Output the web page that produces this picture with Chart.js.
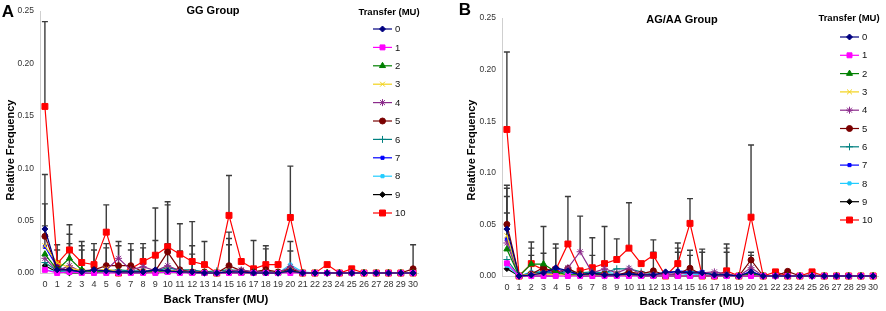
<!DOCTYPE html>
<html>
<head>
<meta charset="utf-8">
<script src="https://cdn.jsdelivr.net/npm/chart.js@4"></script>
<style>
  body { margin: 0; background: #fff; }
  .panel { position: absolute; top: 0; }
</style>
</head>
<body>
<div class="panel" style="left:0"><canvas id="chartA" width="443" height="311"></canvas></div>
<div class="panel" style="left:443px"><canvas id="chartB" width="443" height="311"></canvas></div>
<script>
// x categories (back transfer, MU) and y ticks
const backTransfer = Array.from({ length: 31 }, (_, i) => i);
const yTicks = [0, 0.05, 0.10, 0.15, 0.20, 0.25];
const seriesLabels = ['0', '1', '2', '3', '4', '5', '6', '7', '8', '9', '10'];
const seriesColors = ['#000080', '#ff00ff', '#008000', '#f2d21a', '#8b2a8b', '#7a0000', '#008080', '#0000ff', '#22ccff', '#000000', '#ff0000'];
const seriesMarkers = ['rectRot', 'rect', 'triangle', 'crossRot', 'star', 'circle', 'cross', 'rect', 'rect', 'rectRot', 'rect'];
const markerSizes = [3, 3.5, 3.5, 3.5, 3.5, 3, 3.5, 2.2, 2.2, 2.8, 4.2];

// ---- panel A: GG group ----
const a0 = [0.042,0.003,0.003,0.001,0.003,0.002,0.001,0.001,0.001,0.003,0.002,0.001,0.001,0,0,0.001,0.001,0,0,0,0.002,0,0,0,0,0,0,0,0,0,0];
const a1 = [0.003,0,0.001,0,0,0,0,0,0,0,0.001,0,0,0,0,0,0,0,0,0,0,0,0,0,0,0,0,0,0,0,0];
const a2 = [0.018,0.003,0.014,0.003,0.001,0.001,0.001,0.001,0.001,0.001,0.001,0.001,0,0,0,0.001,0,0,0,0,0.002,0,0,0,0,0,0,0,0,0,0];
const a3 = [0.026,0.010,0.005,0.002,0.001,0.004,0.001,0.001,0.001,0.001,0.003,0.001,0.001,0,0,0.001,0,0,0,0,0.002,0,0,0,0,0,0,0,0,0,0];
const a4 = [0.014,0.002,0.007,0.001,0.002,0.003,0.014,0.003,0.006,0.002,0.007,0.002,0.001,0,0,0.002,0.003,0.001,0.001,0,0.006,0,0,0,0,0,0,0,0,0,0];
const a5 = [0.035,0.004,0.003,0.002,0.003,0.007,0.007,0.007,0.001,0.002,0.020,0.003,0.001,0.001,0,0.007,0.002,0.001,0.003,0.001,0.004,0,0,0,0,0,0,0,0,0,0.004];
const a6 = [0.010,0.002,0.002,0.002,0.002,0.002,0.003,0.002,0.002,0.002,0.005,0.003,0.003,0.001,0.002,0.003,0.002,0.001,0.002,0,0.003,0,0,0,0,0,0,0,0,0,0];
const a7 = [0.025,0.006,0.002,0.001,0.002,0.001,0.001,0.001,0.001,0.003,0.002,0.001,0,0,0,0.001,0,0,0,0,0.004,0,0,0,0,0,0,0,0,0,0];
const a8 = [0.003,0.001,0.001,0.001,0.001,0.001,0.002,0.001,0.001,0.001,0.005,0.002,0.001,0,0,0.002,0.002,0.001,0.001,0,0.008,0.001,0,0,0,0,0,0,0,0,0];
const a9 = [0.007,0.001,0,0,0,0.002,0,0,0,0.001,0.003,0.001,0,0,0,0,0,0,0,0,0.001,0,0,0,0,0,0,0,0,0,0];
const a10 = [0.159,0.009,0.022,0.010,0.008,0.039,0,0.004,0.011,0.017,0.025,0.018,0.011,0.008,0,0.055,0.011,0.004,0.008,0.008,0.053,0,0,0.008,0,0.004,0,0,0,0,0];
// upper ends of error bars (null = none)
const _ = null;
const a0Up = [0.094,_,_,_,_,_,_,_,_,_,_,_,_,_,_,_,_,_,_,_,_,_,_,_,_,_,_,_,_,_,_];
const a2Up = [_,_,0.037,_,_,_,_,_,_,_,_,_,_,_,_,_,_,_,_,_,_,_,_,_,_,_,_,_,_,_,_];
const a3Up = [0.045,0.022,_,0.022,_,_,_,_,_,_,_,_,_,_,_,_,_,_,_,_,_,_,_,_,_,_,_,_,_,_,_];
const a4Up = [_,_,0.028,_,_,_,0.030,_,0.024,_,0.028,_,0.026,_,_,0.027,_,_,_,_,0.021,_,_,_,_,_,_,_,_,_,_];
const a5Up = [0.066,0.027,_,_,_,0.028,_,0.022,_,_,0.065,0.021,_,_,_,0.039,_,_,0.023,_,0.030,_,_,_,_,_,_,_,_,_,0.027];
const a6Up = [_,_,_,0.026,0.022,0.024,0.026,_,_,0.031,_,_,0.018,_,_,0.033,_,_,_,_,_,_,_,_,_,_,_,_,_,_,_];
const a10Up = [0.240,_,0.046,0.030,0.028,0.065,_,0.028,0.028,0.062,0.068,0.047,0.049,0.030,_,0.093,_,0.031,0.026,_,0.102,_,_,_,_,_,_,_,_,_,_];

// ---- panel B: AG/AA group ----
const b0 = [0.0455,0,0.001,0.003,0.008,0.005,0.001,0.003,0.001,0.001,0.002,0.001,0.001,0.004,0.004,0.003,0.003,0.001,0.001,0,0.004,0,0,0,0,0,0,0,0,0,0];
const b1 = [0.0123,0,0,0,0,0,0,0,0,0,0,0,0,0,0,0,0,0,0,0,0,0,0,0,0,0,0,0,0,0,0];
const b2 = [0.026,0,0.0116,0.0116,0.004,0.001,0.001,0.001,0.001,0.001,0.001,0,0,0,0,0,0,0,0,0,0.002,0,0,0,0,0,0,0,0,0,0];
const b3 = [0.039,0,0.002,0.002,0.001,0.001,0.001,0,0.001,0.001,0,0.001,0,0,0,0,0,0,0,0,0.002,0,0,0,0,0,0,0,0,0,0];
const b4 = [0.032,0,0.002,0.002,0.002,0.008,0.0235,0.003,0.007,0.003,0.0075,0.002,0.001,0.001,0.002,0.003,0.003,0.004,0.002,0,0.008,0,0,0,0,0,0,0,0,0,0];
const b5 = [0.050,0,0.002,0.008,0.003,0.007,0.002,0.002,0.002,0.001,0.004,0.002,0.005,0.001,0.002,0.0075,0.001,0,0.001,0,0.0155,0,0,0.0045,0,0,0,0,0,0,0];
const b6 = [0.016,0,0.003,0.004,0.003,0.004,0.003,0.004,0.003,0.007,0.007,0.004,0.002,0.001,0.002,0.004,0.003,0.002,0.001,0,0.003,0,0,0,0,0,0,0,0,0,0];
const b7 = [0.036,0,0.002,0.002,0.007,0.004,0.001,0.002,0.001,0.001,0.002,0.001,0.001,0.002,0.005,0.004,0.004,0.001,0.001,0,0.0045,0,0,0,0,0,0,0,0,0,0];
const b8 = [0.010,0,0.004,0.004,0.001,0.002,0.001,0.002,0.004,0.002,0.002,0.001,0,0,0,0.002,0.001,0,0,0,0.004,0,0,0,0,0,0,0,0,0,0];
const b9 = [0.007,0,0,0,0,0.008,0,0,0,0,0.004,0,0,0,0,0,0,0,0,0,0,0,0,0,0,0.001,0,0,0,0,0];
const b10 = [0.142,0,0.012,0.006,0.006,0.031,0.005,0.008,0.012,0.016,0.027,0.012,0.020,0,0.012,0.051,0,0,0.005,0,0.057,0,0.004,0,0,0.004,0,0,0,0,0];
const b0Up = [0.085,_,_,_,_,_,_,_,_,_,_,_,_,_,0.023,_,_,_,_,_,_,_,_,_,_,_,_,_,_,_,_];
const b2Up = [_,_,0.027,0.048,_,_,_,_,_,_,_,_,_,_,_,_,_,_,_,_,_,_,_,_,_,_,_,_,_,_,_];
const b3Up = [0.077,_,_,_,_,_,_,_,_,_,_,_,_,_,_,_,_,_,_,_,_,_,_,_,_,_,_,_,_,_,_];
const b4Up = [0.061,_,_,_,_,_,0.058,_,_,_,_,_,_,_,_,_,_,_,0.027,_,0.020,_,_,_,_,_,_,_,_,_,_];
const b5Up = [0.088,_,_,0.022,_,_,_,_,_,_,_,_,0.023,_,0.027,0.025,_,_,_,_,0.023,_,_,_,_,_,_,_,_,_,_];
const b6Up = [_,_,0.020,_,0.027,_,_,0.020,_,_,_,_,_,_,_,0.020,0.023,_,0.023,_,_,_,_,_,_,_,_,_,_,_,_];
const b10Up = [0.217,_,0.033,_,0.031,0.077,_,0.037,0.048,0.036,0.071,_,0.035,_,0.032,0.075,0.026,_,0.031,_,0.127,_,_,_,_,_,_,_,_,_,_];

const fontFamily = '"Liberation Sans", Arial, sans-serif';

function makeDatasets(values, uppers) {
    return values.map((vals, i) => ({
        label: seriesLabels[i],
        data: backTransfer.map((x, k) => ({ x: x, y: vals[k] })),
        up: uppers[i] || null,
        borderColor: seriesColors[i],
        backgroundColor: seriesColors[i],
        borderWidth: 1.2,
        pointStyle: seriesMarkers[i],
        pointRadius: markerSizes[i],
        pointBorderWidth: 1,
        showLine: true,
        tension: 0,
        clip: false
    }));
}

// error bars drawn below the series, up only
const errorBars = {
    id: 'errorBars',
    beforeDatasetsDraw(chart) {
        const ctx = chart.ctx;
        const xs = chart.scales.x, ys = chart.scales.y;
        ctx.save();
        ctx.strokeStyle = '#3c3c3c';
        ctx.lineWidth = 1.4;
        chart.data.datasets.forEach(ds => {
            if (!ds.up) return;
            ds.up.forEach((top, k) => {
                if (top === null) return;
                const px = xs.getPixelForValue(ds.data[k].x);
                const y0 = ys.getPixelForValue(ds.data[k].y);
                const y1 = ys.getPixelForValue(top);
                ctx.beginPath();
                ctx.moveTo(px, y0); ctx.lineTo(px, y1);
                ctx.moveTo(px - 3, y1); ctx.lineTo(px + 3, y1);
                ctx.stroke();
            });
        });
        ctx.restore();
    }
};

// titles, panel letter and the legend with line + marker
const decorations = {
    id: 'decorations',
    afterDraw(chart, args, o) {
        const ctx = chart.ctx;
        ctx.save();
        ctx.fillStyle = '#000';
        ctx.textBaseline = 'middle';
        ctx.textAlign = 'center';
        ctx.font = 'bold 17px ' + fontFamily;
        ctx.fillText(o.letter, o.letterX, o.letterY);
        ctx.font = 'bold 11px ' + fontFamily;
        ctx.fillText(o.title, o.titleX, o.titleY);
        ctx.font = 'bold 11.5px ' + fontFamily;
        ctx.fillText('Back Transfer (MU)', o.xTitleX, o.xTitleY);
        ctx.save();
        ctx.translate(o.yTitleX, o.yTitleY);
        ctx.rotate(-Math.PI / 2);
        ctx.font = 'bold 11px ' + fontFamily;
        ctx.fillText('Relative Frequency', 0, 0);
        ctx.restore();

        ctx.font = 'bold 9.5px ' + fontFamily;
        ctx.fillText('Transfer (MU)', o.legTitleX, o.legTitleY);
        ctx.font = '9.5px ' + fontFamily;
        ctx.textAlign = 'left';
        chart.data.datasets.forEach((ds, i) => {
            const y = o.legY + i * o.legStep;
            ctx.strokeStyle = ds.borderColor;
            ctx.fillStyle = ds.backgroundColor;
            ctx.lineWidth = 1.2;
            ctx.beginPath();
            ctx.moveTo(o.legX, y); ctx.lineTo(o.legX + 19, y);
            ctx.stroke();
            ctx.lineWidth = 1;
            Chart.helpers.drawPoint(ctx, { pointStyle: ds.pointStyle, radius: ds.pointRadius, rotation: 0, borderWidth: 1 }, o.legX + 9.5, y);
            ctx.fillStyle = '#111';
            ctx.fillText(ds.label, o.legX + 22, y + 0.5);
        });
        ctx.restore();
    }
};

function makeChart(id, values, uppers, pad, yWidth, xHeight, deco) {
    return new Chart(document.getElementById(id), {
        type: 'scatter',
        data: { datasets: makeDatasets(values, uppers) },
        plugins: [errorBars, decorations],
        options: {
            responsive: false,
            animation: false,
            layout: { padding: pad },
            plugins: {
                legend: { display: false },
                tooltip: { enabled: false },
                decorations: deco
            },
            scales: {
                x: {
                    type: 'linear', min: -0.4, max: 30.4,
                    grid: { display: false, drawTicks: false },
                    border: { display: true, color: '#cfcfcf', width: 1 },
                    afterBuildTicks: s => { s.ticks = backTransfer.map(v => ({ value: v })); },
                    afterFit: s => { s.height = xHeight; },
                    ticks: { autoSkip: false, maxRotation: 0, padding: 6, color: '#333', font: { family: fontFamily, size: 9 }, callback: v => String(v) }
                },
                y: {
                    min: 0, max: 0.25,
                    grid: { display: false, drawTicks: false },
                    border: { display: true, color: '#cfcfcf', width: 1 },
                    afterBuildTicks: s => { s.ticks = yTicks.map(v => ({ value: v })); },
                    afterFit: s => { s.width = yWidth; },
                    ticks: { padding: 6, color: '#333', font: { family: fontFamily, size: 8.5 }, callback: v => v.toFixed(2) }
                }
            }
        }
    });
}

makeChart('chartA', [a0, a1, a2, a3, a4, a5, a6, a7, a8, a9, a10],
    [a0Up, null, a2Up, a3Up, a4Up, a5Up, a6Up, null, null, null, a10Up],
    { left: 0, top: 10, right: 25, bottom: 0 }, 40, 38,
    { letter: 'A', letterX: 8, letterY: 12, title: 'GG Group', titleX: 213, titleY: 11,
      xTitleX: 216, xTitleY: 300, yTitleX: 11, yTitleY: 150,
      legTitleX: 389, legTitleY: 12, legX: 373, legY: 29, legStep: 18.4 });

makeChart('chartB', [b0, b1, b2, b3, b4, b5, b6, b7, b8, b9, b10],
    [b0Up, null, b2Up, b3Up, b4Up, b5Up, b6Up, null, null, null, b10Up],
    { left: 20, top: 18, right: 8, bottom: 0 }, 39, 35,
    { letter: 'B', letterX: 22, letterY: 10, title: 'AG/AA Group', titleX: 239, titleY: 20,
      xTitleX: 249, xTitleY: 302, yTitleX: 29, yTitleY: 150,
      legTitleX: 406, legTitleY: 18, legX: 397, legY: 37, legStep: 18.3 });
</script>
</body>
</html>
